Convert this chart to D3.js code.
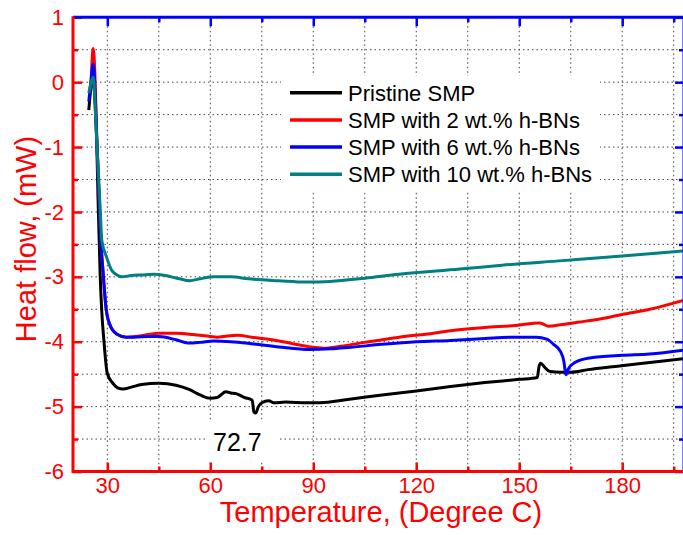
<!DOCTYPE html>
<html>
<head>
<meta charset="utf-8">
<script src="https://cdn.jsdelivr.net/npm/d3@7"></script>
<style>
  body { margin: 0; background: #fff; }
  svg { font-family: "Liberation Sans", Arial, sans-serif; }
</style>
</head>
<body>
<svg width="683" height="535"></svg>
<script>
// [temperature, heat flow]
var pristine = [[24.6,-0.43],[25.2,-0.1],[25.9,0.05],[26.4,-0.3],[26.9,-0.9],[27.3,-1.8],[27.9,-2.95],[28.4,-3.55],[29,-3.98],[30,-4.49],[31.6,-4.64],[33,-4.71],[34.6,-4.73],[37,-4.7],[40,-4.66],[45,-4.64],[50,-4.67],[54,-4.74],[57,-4.82],[60,-4.87],[62,-4.86],[64.5,-4.77],[66,-4.79],[67.5,-4.8],[70,-4.86],[72.2,-4.9],[72.7,-5.08],[73.2,-5.1],[74,-5.0],[75,-4.94],[77,-4.91],[78.5,-4.94],[82,-4.93],[88,-4.94],[92,-4.94],[100,-4.89],[110,-4.82],[120,-4.76],[130,-4.69],[140,-4.63],[150,-4.58],[155.3,-4.55],[155.7,-4.4],[156.2,-4.33],[157.5,-4.4],[159,-4.46],[162,-4.47],[165,-4.47],[170,-4.43],[178,-4.38],[190,-4.31],[198,-4.26]];
var bn2 = [[25.2,-0.1],[25.9,0.52],[26.4,0.1],[26.9,-0.8],[27.4,-1.5],[28.1,-2.44],[28.8,-2.95],[29.6,-3.47],[30.6,-3.72],[32.7,-3.88],[35.6,-3.93],[38,-3.92],[42,-3.89],[45,-3.87],[50,-3.87],[55,-3.89],[60,-3.92],[62,-3.93],[65,-3.91],[68,-3.9],[72,-3.93],[78,-3.97],[84,-4.03],[89,-4.08],[93,-4.1],[98,-4.07],[105,-4.01],[115,-3.93],[125,-3.87],[130,-3.83],[140,-3.78],[149,-3.75],[156,-3.71],[157,-3.73],[158.5,-3.76],[162,-3.74],[167,-3.7],[173.5,-3.65],[180,-3.58],[188,-3.5],[198,-3.36]];
var bn6 = [[24.6,-0.3],[25.2,0.0],[25.9,0.28],[26.4,-0.1],[26.9,-0.85],[27.4,-1.5],[28.1,-2.44],[28.8,-2.95],[29.6,-3.47],[30.6,-3.72],[32.7,-3.88],[35.6,-3.93],[38,-3.93],[42,-3.92],[45,-3.92],[50,-3.97],[53.5,-4.02],[57,-4.01],[61,-3.99],[66,-4.0],[72,-4.03],[80,-4.08],[89,-4.12],[95,-4.11],[100,-4.09],[110,-4.04],[120,-4.0],[130,-3.98],[140,-3.95],[149,-3.93],[155,-3.93],[158,-3.96],[160,-4.04],[162,-4.15],[163,-4.3],[163.6,-4.51],[164.3,-4.42],[166.2,-4.32],[170.6,-4.25],[180,-4.21],[188,-4.19],[198,-4.13]];
var bn10 = [[24.6,-0.17],[25.2,-0.02],[25.9,0.08],[26.4,-0.3],[26.9,-0.9],[27.4,-1.4],[27.9,-1.92],[28.4,-2.44],[29.8,-2.7],[31.3,-2.9],[32.5,-2.96],[34.2,-3.0],[37,-2.98],[40,-2.97],[43.4,-2.96],[47,-2.98],[51,-3.03],[54,-3.06],[57,-3.03],[61,-3.0],[66,-3.0],[71,-3.03],[80,-3.06],[88,-3.08],[95,-3.07],[105,-3.02],[115,-2.96],[132.7,-2.88],[145,-2.82],[162.7,-2.75],[180,-2.68],[198,-2.6]];

var seriesNames = ["Pristine SMP", "SMP with 2 wt.% h-BNs", "SMP with 6 wt.% h-BNs", "SMP with 10 wt.% h-BNs"];
var seriesColors = ["#000000", "#ff0000", "#0000ff", "#008080"];
var seriesData = [pristine, bn2, bn6, bn10];

var xMajor = [30, 60, 90, 120, 150, 180];
var xMinor = [45, 75, 105, 135, 165, 195];
var yMajor = [-6, -5, -4, -3, -2, -1, 0, 1];
var yMinor = [-5.5, -4.5, -3.5, -2.5, -1.5, -0.5, 0.5];
var peakLabel = "72.7";

var svg = d3.select("svg");
var x = d3.scaleLinear().domain([20, 198]).range([73, 684]);
var y = d3.scaleLinear().domain([-6, 1]).range([471.5, 17.3]);

// grid
var grid = svg.append("g").attr("stroke", "#444").attr("stroke-width", 1).attr("stroke-dasharray", "1.5,3");
xMajor.concat(xMinor).forEach(function(t) {
  grid.append("line").attr("x1", x(t)).attr("x2", x(t)).attr("y1", y(1)).attr("y2", y(-6));
});
yMinor.concat(yMajor.slice(1, -1)).forEach(function(v) {
  grid.append("line").attr("x1", x(20)).attr("x2", x(198)).attr("y1", y(v)).attr("y2", y(v));
});

// white boxes behind legend and label
svg.append("rect").attr("x", 281).attr("y", 76).attr("width", 319).attr("height", 114).attr("fill", "#fff");
svg.append("rect").attr("x", 205).attr("y", 420).attr("width", 72).attr("height", 42).attr("fill", "#fff");

// curves
var line = d3.line()
    .x(function(d) { return x(d[0]); })
    .y(function(d) { return y(d[1]); })
    .curve(d3.curveMonotoneX);

seriesData.forEach(function(s, i) {
  svg.append("path").datum(s)
    .attr("fill", "none")
    .attr("stroke", seriesColors[i])
    .attr("stroke-width", 3)
    .attr("stroke-linejoin", "round")
    .attr("d", line);
});

// axes
function styleAxis(g, color, size) {
  g.select(".domain").remove();
  g.selectAll(".tick line").attr("stroke", color).attr("stroke-width", 2.5);
  g.selectAll(".tick text").attr("fill", color).style("font-size", size + "px");
}

var gl = svg.append("g").attr("transform", "translate(" + x(20) + ",0)")
  .call(d3.axisLeft(y).tickValues(yMajor).tickSizeInner(-9).tickSizeOuter(0).tickPadding(9).tickFormat(d3.format("d")));
styleAxis(gl, "#ff0000", 22);
gl.selectAll(".tick text").text(function(d) { return d < 0 ? "-" + Math.abs(d) : d; });
var glm = svg.append("g").attr("transform", "translate(" + x(20) + ",0)")
  .call(d3.axisLeft(y).tickValues(yMinor).tickSizeInner(-5).tickSizeOuter(0).tickFormat(""));
styleAxis(glm, "#ff0000", 22);

var gb = svg.append("g").attr("transform", "translate(0," + y(-6) + ")")
  .call(d3.axisBottom(x).tickValues(xMajor).tickSizeInner(-9).tickSizeOuter(0).tickPadding(6));
styleAxis(gb, "#ff0000", 22);
var gbm = svg.append("g").attr("transform", "translate(0," + y(-6) + ")")
  .call(d3.axisBottom(x).tickValues(xMinor).tickSizeInner(-5).tickSizeOuter(0).tickFormat(""));
styleAxis(gbm, "#ff0000", 22);

var gt = svg.append("g").attr("transform", "translate(0," + y(1) + ")")
  .call(d3.axisTop(x).tickValues(xMajor).tickSizeInner(-9).tickSizeOuter(0).tickFormat(""));
styleAxis(gt, "#0000ff", 22);
var gtm = svg.append("g").attr("transform", "translate(0," + y(1) + ")")
  .call(d3.axisTop(x).tickValues(xMinor).tickSizeInner(-5).tickSizeOuter(0).tickFormat(""));
styleAxis(gtm, "#0000ff", 22);

var gr = svg.append("g").attr("transform", "translate(" + x(198) + ",0)")
  .call(d3.axisRight(y).tickValues(yMajor).tickSizeInner(-9).tickSizeOuter(0).tickFormat(""));
styleAxis(gr, "#0000ff", 22);
var grm = svg.append("g").attr("transform", "translate(" + x(198) + ",0)")
  .call(d3.axisRight(y).tickValues(yMinor).tickSizeInner(-5).tickSizeOuter(0).tickFormat(""));
styleAxis(grm, "#0000ff", 22);

// frame lines
svg.append("line").attr("x1", x(20)).attr("x2", x(198)).attr("y1", y(1)).attr("y2", y(1)).attr("stroke", "#0000ff").attr("stroke-width", 3);
svg.append("line").attr("x1", x(198)).attr("x2", x(198)).attr("y1", y(1)).attr("y2", y(-6)).attr("stroke", "#0000ff").attr("stroke-width", 3);
svg.append("line").attr("x1", x(20)).attr("x2", x(198)).attr("y1", y(-6)).attr("y2", y(-6)).attr("stroke", "#ff0000").attr("stroke-width", 3);
svg.append("line").attr("x1", x(20)).attr("x2", x(20)).attr("y1", y(1) - 1).attr("y2", y(-6) + 1.5).attr("stroke", "#ff0000").attr("stroke-width", 3);

// titles
svg.append("text").attr("x", 381).attr("y", 522).attr("text-anchor", "middle")
  .attr("fill", "#ff0000").style("font-size", "29px").text("Temperature, (Degree C)");
svg.append("text").attr("transform", "translate(36,239) rotate(-90)").attr("text-anchor", "middle")
  .attr("fill", "#ff0000").style("font-size", "29px").text("Heat flow, (mW)");

// peak label
svg.append("text").attr("x", 213).attr("y", 451).attr("fill", "#000").style("font-size", "25px").text(peakLabel);

// legend
var lg = svg.append("g");
seriesNames.forEach(function(n, i) {
  var cy = 92.7 + i * 27.2;
  lg.append("line").attr("x1", 290).attr("x2", 342).attr("y1", cy).attr("y2", cy)
    .attr("stroke", seriesColors[i]).attr("stroke-width", 3.5);
  lg.append("text").attr("x", 348).attr("y", cy + 8).attr("fill", "#000").style("font-size", "22px").text(n);
});
</script>
</body>
</html>
